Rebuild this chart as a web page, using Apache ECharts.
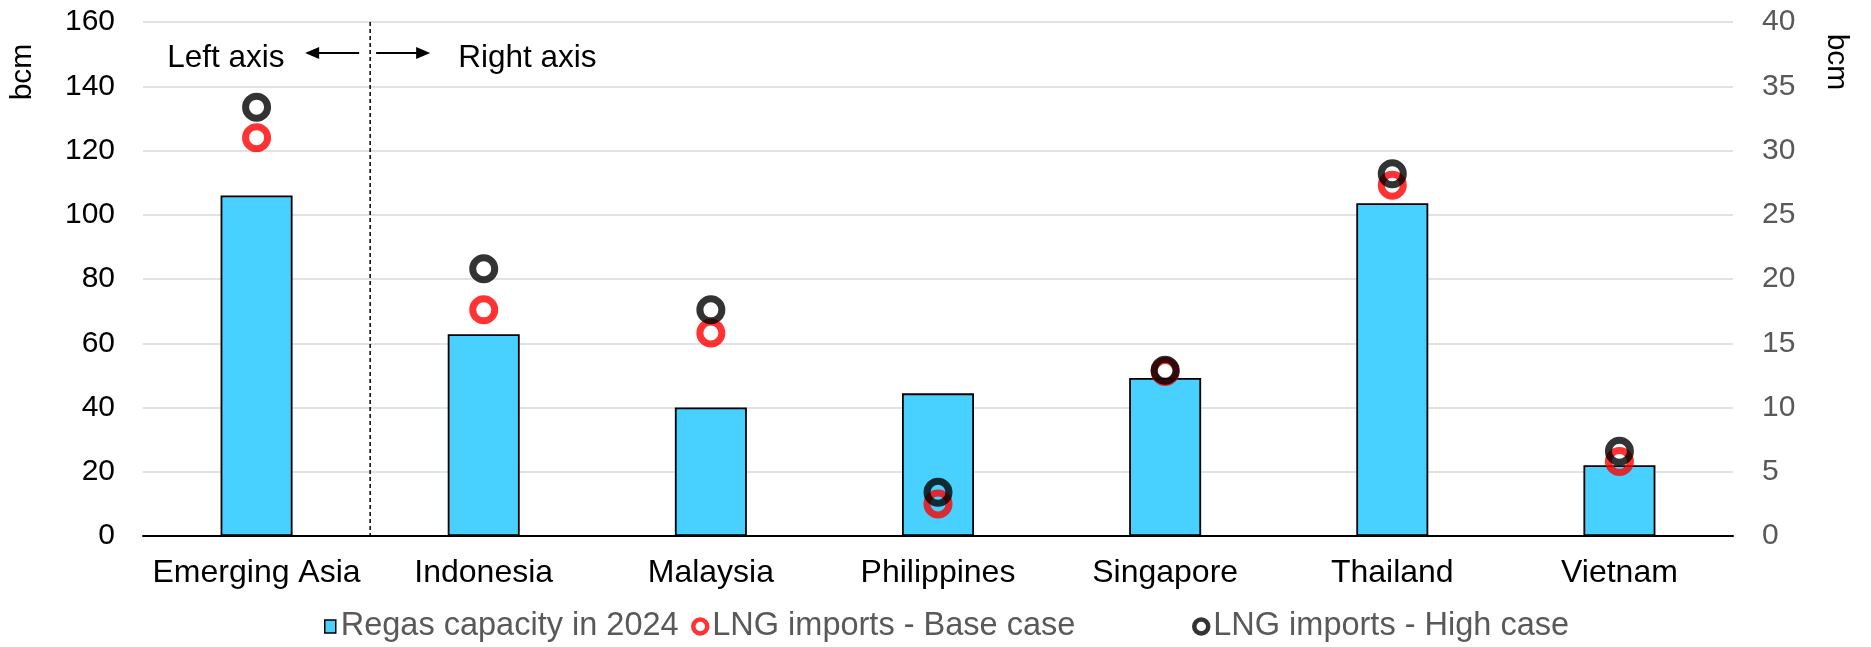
<!DOCTYPE html>
<html>
<head>
<meta charset="utf-8">
<script src="https://cdn.jsdelivr.net/npm/echarts@6/dist/echarts.min.js"></script>
<style>
  html, body { margin: 0; padding: 0; background: #fff; }
  #chart { width: 1871px; height: 647px; }
</style>
</head>
<body>
<div id="chart"></div>
<script>
// Regas capacity vs LNG import outlook, bcm.
// The first category is read on the left axis, the others on the right axis.
const categories = ['Emerging Asia', 'Indonesia', 'Malaysia', 'Philippines', 'Singapore', 'Thailand', 'Vietnam'];
const regasCapacity = [106, 15.7, 10.0, 11.1, 12.3, 25.9, 5.5];
const lngBase = [124, 17.6, 15.8, 2.5, 12.8, 27.3, 5.8];
const lngHigh = [133.5, 20.8, 17.6, 3.4, 12.9, 28.2, 6.6];
const leftAxisTicks = { min: 0, max: 160, interval: 20 };
const rightAxisTicks = { min: 0, max: 40, interval: 5 };
const leftAxisCategories = ['Emerging Asia'];

const FONT = "'Liberation Sans', Arial, sans-serif";

// split one value list into the part on the left axis and the part on the right axis
function onLeft(values) {
  return values.map((v, i) => leftAxisCategories.includes(categories[i]) ? v : '-');
}
function onRight(values) {
  return values.map((v, i) => leftAxisCategories.includes(categories[i]) ? '-' : v);
}

const barStyle = { color: '#48D1FF', borderColor: '#000', borderWidth: 1.8 };
const baseStyle = { color: 'rgba(0,0,0,0)', borderColor: '#FF0000', borderWidth: 7 };
const highStyle = { color: 'rgba(0,0,0,0)', borderColor: '#000000', borderWidth: 7 };

function barSeries(data, axis) {
  return {
    name: 'Regas capacity in 2024', type: 'bar', yAxisIndex: axis, data: data,
    barWidth: 72, barGap: '-100%', itemStyle: barStyle, z: 2
  };
}
function ringSeries(name, data, axis, style, z) {
  return {
    name: name, type: 'scatter', yAxisIndex: axis, data: data,
    symbol: 'circle', symbolSize: 22, itemStyle: style, z: z
  };
}

const legendText = { color: '#595959', fontSize: 32.5, fontFamily: FONT };

const chart = echarts.init(document.getElementById('chart'));
chart.setOption({
  animation: false,
  textStyle: { fontFamily: FONT },
  grid: { left: 143, right: 138, top: 22, bottom: 111 },
  xAxis: {
    type: 'category',
    data: categories,
    axisLine: { lineStyle: { color: '#000', width: 2 } },
    axisTick: { show: false },
    axisLabel: { color: '#000', fontSize: 32, fontFamily: FONT, margin: 21, interval: 0 },
    splitLine: { show: false }
  },
  yAxis: [
    {
      type: 'value', position: 'left',
      min: leftAxisTicks.min, max: leftAxisTicks.max, interval: leftAxisTicks.interval,
      axisLine: { show: false }, axisTick: { show: false },
      axisLabel: { color: '#000', fontSize: 30, fontFamily: FONT, margin: 28 },
      splitLine: { lineStyle: { color: '#D9D9D9', width: 1.5 } }
    },
    {
      type: 'value', position: 'right',
      min: rightAxisTicks.min, max: rightAxisTicks.max, interval: rightAxisTicks.interval,
      axisLine: { show: false }, axisTick: { show: false },
      axisLabel: { color: '#595959', fontSize: 30, fontFamily: FONT, margin: 29 },
      splitLine: { show: false }
    }
  ],
  legend: [
    {
      left: 324, top: 610, padding: 0, itemWidth: 11, itemHeight: 13,
      data: [{ name: 'Regas capacity in 2024', icon: 'rect' }],
      itemStyle: { color: '#48D1FF', borderColor: '#000', borderWidth: 1.5 },
      textStyle: legendText, selectedMode: false
    },
    {
      left: 691, top: 610, padding: 0, itemWidth: 14, itemHeight: 14,
      data: [{ name: 'LNG imports - Base case', icon: 'circle' }],
      itemStyle: { color: 'rgba(0,0,0,0)', borderColor: '#FF0000', borderWidth: 4.5 },
      textStyle: legendText, selectedMode: false
    },
    {
      left: 1192, top: 610, padding: 0, itemWidth: 14, itemHeight: 14,
      data: [{ name: 'LNG imports - High case', icon: 'circle' }],
      itemStyle: { color: 'rgba(0,0,0,0)', borderColor: '#000000', borderWidth: 4.5 },
      textStyle: legendText, selectedMode: false
    }
  ],
  series: [
    barSeries(onLeft(regasCapacity), 0),
    barSeries(onRight(regasCapacity), 1),
    ringSeries('LNG imports - Base case', onLeft(lngBase), 0, baseStyle, 3),
    ringSeries('LNG imports - Base case', onRight(lngBase), 1, baseStyle, 3),
    ringSeries('LNG imports - High case', onLeft(lngHigh), 0, highStyle, 4),
    ringSeries('LNG imports - High case', onRight(lngHigh), 1, highStyle, 4)
  ]
});

// Divider between the left-axis group and the right-axis group, placed on the
// category boundary, plus the axis hints on either side of it.
const nLeft = leftAxisCategories.length;
const sepX = (chart.convertToPixel({ xAxisIndex: 0 }, nLeft - 1) +
              chart.convertToPixel({ xAxisIndex: 0 }, nLeft)) / 2;
const yTop = chart.convertToPixel({ yAxisIndex: 0 }, leftAxisTicks.max);
const yBottom = chart.convertToPixel({ yAxisIndex: 0 }, leftAxisTicks.min);
const arrowY = 53;
const hintFont = '31.5px ' + FONT;
const bcmFont = '30px ' + FONT;

// filled arrow outline: shaft from `from` to the head tip at `tip`
function arrowPoints(from, tip, y) {
  const dir = tip > from ? 1 : -1;
  const headLen = 14, headHalf = 6, shaftHalf = 1;
  const neck = tip - dir * headLen;
  return [
    [from, y - shaftHalf], [neck, y - shaftHalf], [neck, y - headHalf],
    [tip, y], [neck, y + headHalf], [neck, y + shaftHalf], [from, y + shaftHalf]
  ];
}

chart.setOption({
  graphic: [
    { type: 'line', z: 1,
      shape: { x1: sepX, y1: yTop, x2: sepX, y2: yBottom },
      style: { stroke: '#000', lineWidth: 1.5, lineDash: [4, 3] } },
    // unit labels
    { type: 'text', x: 23, y: 72, rotation: Math.PI / 2,
      style: { text: 'bcm', fill: '#000', font: bcmFont, align: 'center', verticalAlign: 'middle' } },
    { type: 'text', x: 1836, y: 62, rotation: -Math.PI / 2,
      style: { text: 'bcm', fill: '#000', font: bcmFont, align: 'center', verticalAlign: 'middle' } },
    // axis hints
    { type: 'text', x: sepX - 203, y: 58,
      style: { text: 'Left axis', fill: '#000', font: hintFont, align: 'left', verticalAlign: 'middle' } },
    { type: 'text', x: sepX + 88, y: 58,
      style: { text: 'Right axis', fill: '#000', font: hintFont, align: 'left', verticalAlign: 'middle' } },
    { type: 'polygon', shape: { points: arrowPoints(sepX - 11, sepX - 65, arrowY) }, style: { fill: '#000' } },
    { type: 'polygon', shape: { points: arrowPoints(sepX + 6, sepX + 60, arrowY) }, style: { fill: '#000' } }
  ]
});
</script>
</body>
</html>
